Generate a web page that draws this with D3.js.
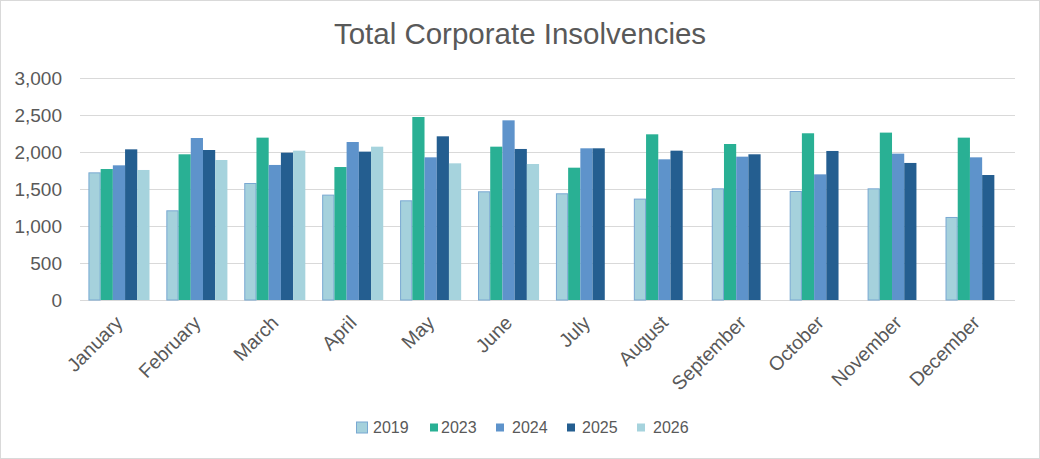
<!DOCTYPE html>
<html><head><meta charset="utf-8">
<script src="https://cdn.jsdelivr.net/npm/d3@7"></script>
<style>html,body{margin:0;padding:0;background:#fff;}svg{display:block;}</style>
</head><body>
<svg id="chart" width="1040" height="459"></svg>
<script>
const months = ["January","February","March","April","May","June","July","August","September","October","November","December"];
const seriesNames = ["2019","2023","2024","2025","2026"];
const v2019 = [1725,1212,1581,1424,1347,1469,1442,1370,1509,1473,1509,1122];
const v2023 = [1770,1969,2194,1797,2473,2072,1788,2239,2108,2253,2262,2194];
const v2024 = [1820,2189,1825,2135,1928,2428,2050,1901,1937,1698,1978,1928];
const v2025 = [2036,2027,1991,2005,2212,2041,2050,2018,1969,2014,1852,1689];
const v2026 = [1757,1892,2018,2072,1847,1838,null,null,null,null,null,null];
const yTicks = [0,500,1000,1500,2000,2500,3000];
const chartTitle = "Total Corporate Insolvencies";

const seriesValues = [v2019,v2023,v2024,v2025,v2026];
const fills = ["#A5D1DC","#29B094","#5E93CB","#245E90","#A6D3DD"];
const strokes = ["#79A8D2",null,null,null,null];

const svg = d3.select("#chart");
const W = 1040, H = 459;
const pLeft = 80, pRight = 1015, pTop = 78, pBottom = 300;
const font = "'Liberation Sans', Arial, sans-serif";
const grey = "#595959";

svg.append("rect").attr("x",0.5).attr("y",0.5).attr("width",W-1).attr("height",H-1)
  .attr("fill","#fff").attr("stroke","#d9d9d9");

svg.append("text").attr("x",W/2).attr("y",44).attr("text-anchor","middle")
  .attr("font-family",font).attr("font-size",29.5).attr("fill",grey).text(chartTitle);

const y = d3.scaleLinear().domain([0,3000]).range([pBottom,pTop]);
const x0 = d3.scaleBand().domain(months).range([pLeft,pRight]).padding(0);
const x1 = d3.scaleBand().domain(seriesNames).range([0,x0.bandwidth()]).paddingInner(0).paddingOuter(0.69);

// gridlines
svg.append("g").selectAll("line").data(yTicks).join("line")
  .attr("x1",pLeft).attr("x2",pRight)
  .attr("y1",d=>Math.round(y(d))+0.5).attr("y2",d=>Math.round(y(d))+0.5)
  .attr("stroke","#d9d9d9").attr("stroke-width",1);

// y labels
const yAxis = d3.axisLeft(y).tickValues(yTicks).tickFormat(d3.format(",")).tickSize(0).tickPadding(0);
const gy = svg.append("g").attr("transform",`translate(62,0)`).call(yAxis);
gy.select(".domain").remove();
gy.selectAll("text").attr("font-family",font).attr("font-size",19).attr("fill",grey).attr("dy","0.35em");

// bars
const data = [];
months.forEach((m,i)=>{
  seriesNames.forEach((s,j)=>{
    const v = seriesValues[j][i];
    if (v!=null) data.push({m,s,v,j});
  });
});
svg.append("g").selectAll("rect").data(data).join("rect")
  .attr("x",d=>x0(d.m)+x1(d.s)+(strokes[d.j]?0.5:0))
  .attr("y",d=>y(d.v)+(strokes[d.j]?0.5:0))
  .attr("width",d=>x1.bandwidth()-(strokes[d.j]?1:0))
  .attr("height",d=>y(0)-y(d.v)-(strokes[d.j]?0.5:0))
  .attr("fill",d=>fills[d.j])
  .attr("stroke",d=>strokes[d.j]||"none")
  .attr("stroke-width",1);

// x labels
const xAxis = d3.axisBottom(x0).tickSize(0).tickPadding(0);
const gx = svg.append("g").attr("transform",`translate(0,${pBottom})`).call(xAxis);
gx.select(".domain").remove();
gx.selectAll("text")
  .attr("font-family",font).attr("font-size",19.5).attr("fill",grey)
  .attr("text-anchor","end").attr("dy",0).attr("y",0)
  .attr("transform","translate(5,24) rotate(-45)");

// legend
const legSq = [362,434,500,571,641];
const legTx = [373,441,512,582,653];
const sqSize = [12,8,8,8,8];
const lg = svg.append("g").selectAll("g").data(seriesNames).join("g");
lg.append("rect")
  .attr("x",(d,i)=>legSq[i]-sqSize[i]/2).attr("y",(d,i)=>427.5-sqSize[i]/2)
  .attr("width",(d,i)=>sqSize[i]-(strokes[i]?1:0)).attr("height",(d,i)=>sqSize[i]-(strokes[i]?1:0))
  .attr("transform",(d,i)=>strokes[i]?"translate(0.5,0.5)":null)
  .attr("fill",(d,i)=>fills[i]).attr("stroke",(d,i)=>strokes[i]||"none");
lg.append("text").attr("x",(d,i)=>legTx[i]).attr("y",433).attr("font-family",font).attr("font-size",16)
  .attr("fill",grey).text(d=>d);
</script>
</body></html>
